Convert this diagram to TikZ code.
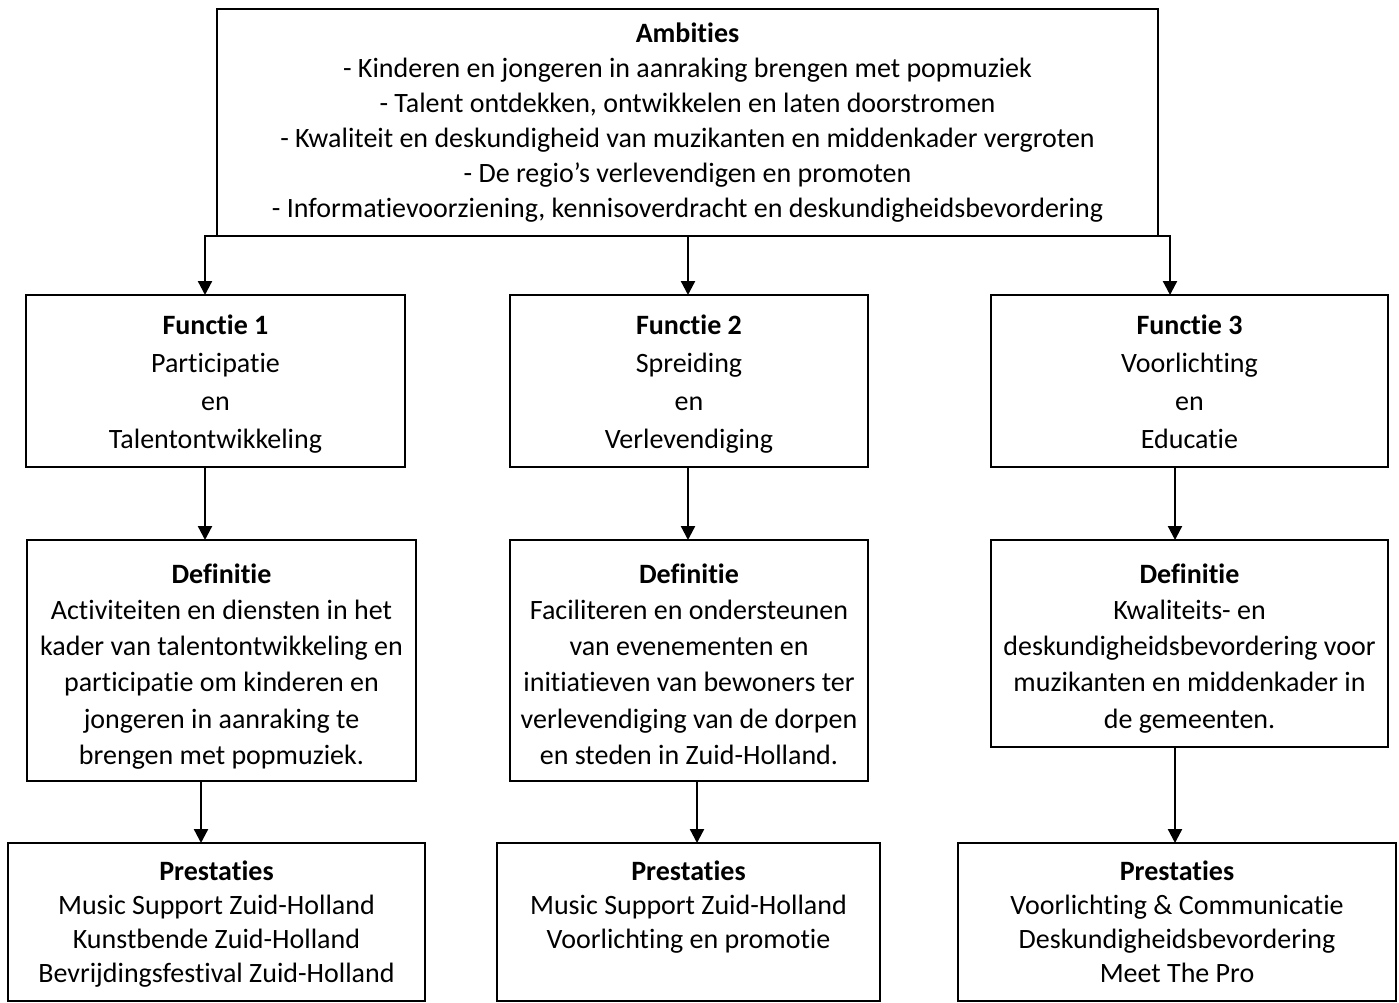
\documentclass[tikz,border=0pt]{standalone}
\usepackage{fontspec}
\setmainfont{Carlito}[Ligatures={NoCommon}]
\usetikzlibrary{arrows.meta,fit}
\begin{document}
\begin{tikzpicture}[x=1pt,y=-1pt,
  box/.style={draw, line width=2.4pt, inner sep=0pt, outer sep=0pt},
  txt/.style={align=center, inner sep=0pt, font=\fontsize{28}{#1}\selectfont},
  arr/.style={line width=2.3pt, -{Triangle[width=14pt,length=14pt]}}]
\useasboundingbox (0,0) rectangle (1399,1003);
% boxes
\node[box, fit={(217,9) (1158,236)}] (top) {};
\node[box, fit={(26,295) (405,467)}] (f1) {};
\node[box, fit={(510,295) (868,467)}] (f2) {};
\node[box, fit={(991,295) (1388,467)}] (f3) {};
\node[box, fit={(27,540) (416,781)}] (d1) {};
\node[box, fit={(510,540) (868,781)}] (d2) {};
\node[box, fit={(991,540) (1388,747)}] (d3) {};
\node[box, fit={(8,843) (425,1001)}] (p1) {};
\node[box, fit={(497,843) (880,1001)}] (p2) {};
\node[box, fit={(958,843) (1396,1001)}] (p3) {};
% texts
\node[txt=35] (ttop) at (687.5,123) {\strut\textbf{Ambities}\\- Kinderen en jongeren in aanraking brengen met popmuziek\\- Talent ontdekken, ontwikkelen en laten doorstromen\\- Kwaliteit en deskundigheid van muzikanten en middenkader vergroten\\- De regio’s verlevendigen en promoten\\- Informatievoorziening, kennisoverdracht en deskundigheidsbevordering\strut};
\node[txt=38] (tf1) at (215.5,384) {\strut\textbf{Functie 1}\\Participatie\\en\\Talentontwikkeling\strut};
\node[txt=38] (tf2) at (689,384) {\strut\textbf{Functie 2}\\Spreiding\\en\\Verlevendiging\strut};
\node[txt=38] (tf3) at (1189.5,384) {\strut\textbf{Functie 3}\\Voorlichting\\en\\Educatie\strut};
\node[txt=36.2] (td1) at (221.5,666.5) {\strut\textbf{Definitie}\\Activiteiten en diensten in het\\kader van talentontwikkeling en\\participatie om kinderen en\\jongeren in aanraking te\\brengen met popmuziek.\strut};
\node[txt=36.2] (td2) at (689,666.5) {\strut\textbf{Definitie}\\Faciliteren en ondersteunen\\van evenementen en\\initiatieven van bewoners ter\\verlevendiging van de dorpen\\en steden in Zuid-Holland.\strut};
\node[txt=36.2] (td3) at (1189.5,648.5) {\strut\textbf{Definitie}\\Kwaliteits- en\\deskundigheidsbevordering voor\\muzikanten en middenkader in\\de gemeenten.\strut};
\node[txt=34] (tp1) at (216.5,925) {\strut\textbf{Prestaties}\\Music Support Zuid-Holland\\Kunstbende Zuid-Holland\\Bevrijdingsfestival Zuid-Holland\strut};
\node[txt=34] (tp2) at (688.5,908) {\strut\textbf{Prestaties}\\Music Support Zuid-Holland\\Voorlichting en promotie\strut};
\node[txt=34] (tp3) at (1177,925) {\strut\textbf{Prestaties}\\Voorlichting \& Communicatie\\Deskundigheidsbevordering\\Meet The Pro\strut};
% connector x positions
\coordinate (xa) at (205,0);
\coordinate (xb) at (688,0);
\coordinate (xc) at (1170,0);
\coordinate (xd) at (201,0);
\coordinate (xe) at (697,0);
\coordinate (xf) at (1175,0);
% connectors
\draw[arr] (top.south west) -| (f1.north -| xa);
\draw[arr] (top.south -| xb) -- (f2.north -| xb);
\draw[arr] (top.south east) -| (f3.north -| xc);
\draw[arr] (f1.south -| xa) -- (d1.north -| xa);
\draw[arr] (f2.south -| xb) -- (d2.north -| xb);
\draw[arr] (f3.south -| xf) -- (d3.north -| xf);
\draw[arr] (d1.south -| xd) -- (p1.north -| xd);
\draw[arr] (d2.south -| xe) -- (p2.north -| xe);
\draw[arr] (d3.south -| xf) -- (p3.north -| xf);
\end{tikzpicture}
\end{document}
